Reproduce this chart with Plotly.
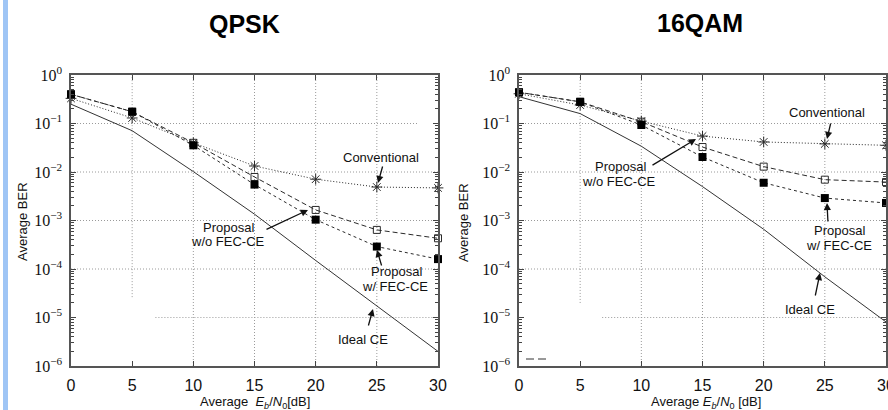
import plotly.graph_objects as go

# ---------------- data ----------------
snr = [0, 5, 10, 15, 20, 25, 30]

qpsk_ideal = [0.25, 0.071, 0.0102, 1.35e-3, 1.5e-4, 1.75e-5, 2.0e-6]
qpsk_conv = [0.33, 0.13, 0.040, 0.0133, 0.0071, 0.0049, 0.0047]
qpsk_wo = [0.40, 0.175, 0.040, 0.0079, 1.65e-3, 6.4e-4, 4.3e-4]
qpsk_w = [0.40, 0.175, 0.0355, 0.0055, 1.04e-3, 2.9e-4, 1.6e-4]

qam_ideal = [0.357, 0.16, 0.034, 5.0e-3, 6.6e-4, 6.9e-5, 8.1e-6]
qam_conv = [0.41, 0.24, 0.112, 0.055, 0.0416, 0.038, 0.0355]
qam_wo = [0.44, 0.28, 0.109, 0.0327, 0.0129, 6.95e-3, 6.2e-3]
qam_w = [0.44, 0.28, 0.093, 0.0204, 6.0e-3, 2.9e-3, 2.3e-3]

x_ticks = [0, 5, 10, 15, 20, 25, 30]
y_tickvals = [1, 1e-1, 1e-2, 1e-3, 1e-4, 1e-5, 1e-6]
y_ticktext = ["10<sup>0</sup>", "10<sup>\u22121</sup>", "10<sup>\u22122</sup>",
              "10<sup>\u22123</sup>", "10<sup>\u22124</sup>", "10<sup>\u22125</sup>",
              "10<sup>\u22126</sup>"]
titles = ["QPSK", "16QAM"]

W, H = 888, 410


def px(v):
    return v / W


def py(v):
    return 1 - v / H


fig = go.Figure()

INK = "#2a2a2a"


def add_panel(xa, ya, ideal, conv, wo, w):
    common = dict(x=snr, xaxis=xa, yaxis=ya, showlegend=False, cliponaxis=False)
    fig.add_trace(go.Scatter(y=ideal, mode="lines",
                             line=dict(color="#333333", width=1), **common))
    fig.add_trace(go.Scatter(y=conv, mode="lines+markers",
                             line=dict(color=INK, width=1, dash="1px,2px"),
                             marker=dict(symbol="asterisk-open", size=9,
                                         line=dict(color=INK, width=1)), **common))
    fig.add_trace(go.Scatter(y=wo, mode="lines+markers",
                             line=dict(color=INK, width=1, dash="5px,3px"),
                             marker=dict(symbol="square-open", size=7,
                                         line=dict(color="#333333", width=1)), **common))
    fig.add_trace(go.Scatter(y=w, mode="lines+markers",
                             line=dict(color=INK, width=1, dash="3px,3px"),
                             marker=dict(symbol="square", size=8, color="black",
                                         line=dict(color="black", width=0)), **common))


add_panel("x", "y", qpsk_ideal, qpsk_conv, qpsk_wo, qpsk_w)
add_panel("x2", "y2", qam_ideal, qam_conv, qam_wo, qam_w)

ydom = [py(366), py(75)]
minor_vals = [m * 10.0 ** e for e in range(-6, 0) for m in range(2, 10)]

xax = dict(range=[0, 30], tickvals=x_ticks, showgrid=False, zeroline=False,
           showline=True, linecolor="#555555", linewidth=1.6, mirror="ticks",
           ticks="inside", ticklen=5, tickcolor="#444444", tickwidth=1,
           tickfont=dict(family="Liberation Sans", size=16, color="#111111"),
           ticklabelstandoff=4, ticklabeloverflow="allow",
           automargin=False, fixedrange=True)
yax = dict(type="log", range=[-6, 0], tickvals=y_tickvals, ticktext=y_ticktext,
           showgrid=False, zeroline=False, showline=True, linecolor="#555555",
           linewidth=1.6, mirror="ticks", ticks="inside", ticklen=5,
           tickcolor="#444444", tickwidth=1,
           minor=dict(tickvals=minor_vals, ticks="inside", ticklen=3,
                      tickcolor="#444444", showgrid=False),
           tickfont=dict(family="Liberation Serif", size=16, color="#111111"),
           ticklabelstandoff=4, ticklabeloverflow="allow",
           automargin=False, fixedrange=True, domain=ydom)

fig.update_layout(
    width=W, height=H, margin=dict(l=0, r=0, t=0, b=0),
    paper_bgcolor="white", plot_bgcolor="white",
    xaxis=dict(domain=[px(71), px(438)], anchor="y", **xax),
    yaxis=dict(anchor="x", **yax),
    xaxis2=dict(domain=[px(519), px(886)], anchor="y2", **xax),
    yaxis2=dict(anchor="x2", **yax),
)

# grid lines (dotted), some partially erased as in the reference
shapes = []
grid = dict(color="#9a9a9a", width=1, dash="1px,2px")
panels = [("x", "y", 28.3, 6.9, 10 ** -4.58), ("x2", "y2", 30, 6.8, 10 ** -4.7)]
for xr, yr, h1_end, h5_start, v5_end in panels:
    for xv in [5, 10, 15, 20, 25]:
        y0 = v5_end if xv == 5 else 1e-6
        shapes.append(dict(type="line", xref=xr, yref=yr, x0=xv, x1=xv, y0=y0, y1=1,
                           line=grid, layer="below"))
    for yv in [1e-1, 1e-2, 1e-3, 1e-4, 1e-5]:
        x0, x1 = 0, 30
        if yv == 1e-1:
            x1 = h1_end
        if yv == 1e-5:
            x0 = h5_start
        shapes.append(dict(type="line", xref=xr, yref=yr, x0=x0, x1=x1, y0=yv, y1=yv,
                           line=grid, layer="below"))

# stray legend dash remnant in the right panel
shapes.append(dict(type="line", xref="paper", yref="paper", x0=px(526), x1=px(550),
                   y0=py(359), y1=py(359), line=dict(color="#333", width=1, dash="8px,4px")))
# blue edge bar
shapes.append(dict(type="rect", xref="paper", yref="paper", x0=px(3), x1=px(8),
                   y0=0, y1=1, line=dict(width=0), fillcolor="#9fc5f5", layer="below"))
fig.update_layout(shapes=shapes)

C = dict(xref="paper", yref="paper", xanchor="center", yanchor="middle")
ann = []
# titles
ann.append(dict(text="<b>" + titles[0] + "</b>", x=px(244), y=py(24), showarrow=False,
                font=dict(family="Liberation Sans", size=25, color="black"), **C))
ann.append(dict(text="<b>" + titles[1] + "</b>", x=px(700), y=py(23), showarrow=False,
                font=dict(family="Liberation Sans", size=25, color="black"), **C))
# axis titles
for cx in [22, 463]:
    ann.append(dict(text="Average BER", x=px(cx), y=py(222), textangle=-90,
                    showarrow=False,
                    font=dict(family="Liberation Sans", size=13, color="#111"), **C))
xt = "Average  <i>E<sub>b</sub></i>/<i>N</i><sub>0</sub>[dB]"
xt2 = "Average <i>E<sub>b</sub></i>/<i>N</i><sub>0</sub> [dB]"
ann.append(dict(text=xt, x=px(255), y=py(402), showarrow=False,
                font=dict(family="Liberation Sans", size=13, color="#111"), **C))
ann.append(dict(text=xt2, x=px(706), y=py(402), showarrow=False,
                font=dict(family="Liberation Sans", size=13, color="#111"), **C))

lab_font = dict(family="Liberation Sans", size=13, color="#111")
labels = [
    ("Conventional", 381, 157), ("Proposal", 228, 227), ("w/o FEC-CE", 228, 241),
    ("Proposal", 396, 271), ("w/ FEC-CE", 395, 286), ("Ideal CE", 363, 339),
    ("Conventional", 827, 112), ("Proposal", 620, 167), ("w/o FEC-CE", 619, 182),
    ("Proposal", 839, 231), ("w/ FEC-CE", 839, 245), ("Ideal CE", 810, 309),
]
for t, cx, cy in labels:
    ann.append(dict(text=t, x=px(cx), y=py(cy), showarrow=False, font=lab_font, **C))

arrows = [
    ((383, 165), (378, 183)), ((265, 230), (308, 210)), ((382, 267), (377, 250)),
    ((368, 327), (373, 309)),
    ((831, 122), (827, 139)), ((651, 166), (696, 139)), ((828, 223), (827, 203)),
    ((815, 297), (820, 273)),
]
for (tx, ty), (hx, hy) in arrows:
    ann.append(dict(text="", x=px(hx), y=py(hy), xref="paper", yref="paper",
                    ax=tx - hx, ay=ty - hy, showarrow=True, arrowhead=2, arrowsize=1.1,
                    arrowwidth=1.3, arrowcolor="#111", standoff=0, startstandoff=0))
fig.update_layout(annotations=ann)

fig.write_html("out.html",
               config={"displayModeBar": False, "staticPlot": True},
               post_script="document.body.style.margin='0px';"
                           "document.body.style.overflow='hidden';")
